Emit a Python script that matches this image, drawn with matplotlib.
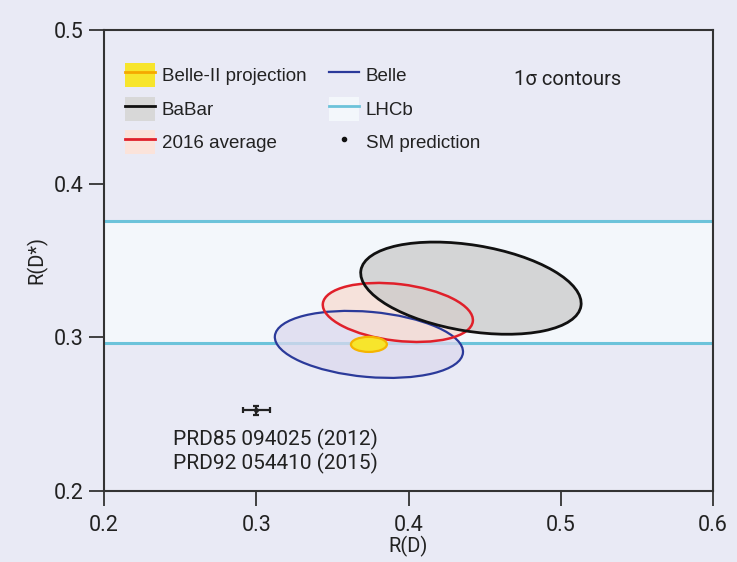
import matplotlib
matplotlib.use("Agg")
import matplotlib.pyplot as plt
import numpy as np
from matplotlib.patches import Ellipse, Patch
from matplotlib.lines import Line2D

# 1-sigma contours: R(D), R(D*) centres, widths and correlation
labels = ["Belle", "2016 average", "BaBar", "Belle-II projection"]
rd_center = [0.374, 0.393, 0.441, 0.374]
rd_sigma = [0.0618, 0.0493, 0.0724, 0.0118]
rds_center = [0.2954, 0.3162, 0.332, 0.2954]
rds_sigma = [0.0218, 0.0192, 0.030, 0.0049]
rho = [-0.22, -0.26, -0.33, 0.0]

# LHCb R(D*) band
lhcb_rds = 0.336
lhcb_err = 0.040

# SM prediction
sm_rd, sm_rd_err = 0.300, 0.009
sm_rds, sm_rds_err = 0.2525, 0.003

BG = "#e9eaf5"
BAND = "#f3f7fb"
fills = ["#dcd9ee", "#f7ddd3", "#c8c8c8", "#f7e52c"]
fill_alpha = [0.75, 0.8, 0.72, 1.0]
edges = ["#2b3a9a", "#e0202a", "#111111", "#f5b400"]
lws = [1.6, 1.8, 2.0, 1.6]

NARROW = ["Liberation Sans Narrow", "Roboto", "DejaVu Sans"]


def cov_ellipse(cx, cy, sx, sy, r, **kw):
    cov = np.array([[sx * sx, r * sx * sy], [r * sx * sy, sy * sy]])
    vals, vecs = np.linalg.eigh(cov)
    order = vals.argsort()[::-1]
    vals, vecs = vals[order], vecs[:, order]
    angle = np.degrees(np.arctan2(vecs[1, 0], vecs[0, 0]))
    w, h = 2 * np.sqrt(vals)
    return Ellipse((cx, cy), w, h, angle=angle, **kw)


fig = plt.figure(figsize=(7.37, 5.62), dpi=100, facecolor=BG)
ax = fig.add_axes([104 / 737, 1 - 491 / 562, (713 - 104) / 737, (491 - 30) / 562])
ax.set_facecolor(BG)
ax.set_xlim(0.2, 0.6)
ax.set_ylim(0.2, 0.5)

# LHCb band
ax.axhspan(lhcb_rds - lhcb_err, lhcb_rds + lhcb_err, color=BAND, lw=0, zorder=1)
for yv in (lhcb_rds - lhcb_err, lhcb_rds + lhcb_err):
    ax.axhline(yv, color="#6cc3da", lw=2.2, zorder=2)

# fills first, then outlines on top
for i in range(len(labels)):
    ax.add_patch(cov_ellipse(rd_center[i], rds_center[i], rd_sigma[i], rds_sigma[i], rho[i],
                             facecolor=fills[i], alpha=fill_alpha[i], lw=0, zorder=3 + i * 0.1))
for i in range(3):
    ax.add_patch(cov_ellipse(rd_center[i], rds_center[i], rd_sigma[i], rds_sigma[i], rho[i],
                             facecolor="none", edgecolor=edges[i], lw=lws[i], zorder=5))
ax.add_patch(cov_ellipse(rd_center[3], rds_center[3], rd_sigma[3], rds_sigma[3], rho[3],
                         facecolor=fills[3], edgecolor=edges[3], lw=lws[3], zorder=6))

# SM prediction
ax.errorbar([sm_rd], [sm_rds], xerr=[sm_rd_err], yerr=[sm_rds_err], fmt="o", ms=2.5,
            color="#222222", lw=1.6, capsize=2, capthick=1.6, zorder=7)
ax.text(sm_rd + 0.0125, 0.2258, "PRD85 094025 (2012)\nPRD92 054410 (2015)", ha="center", va="center",
        fontsize=15, family=NARROW, color="#222222", linespacing=1.2)

ax.text(0.469, 0.4675, "1σ contours", fontsize=14.5, family=NARROW, color="#222222", va="center")

# legend
hl = dict(lw=2)
handles = [
    (Patch(facecolor="#f7e52c", edgecolor="none"), Line2D([], [], color="#f5a800", **hl)),
    (Patch(facecolor="#d8d8d8", edgecolor="none"), Line2D([], [], color="#111111", **hl)),
    (Patch(facecolor="#fbe3da", edgecolor="none"), Line2D([], [], color="#e0202a", **hl)),
    (Patch(facecolor=BG, edgecolor="none"), Line2D([], [], color="#2b3a9a", lw=1.6)),
    (Patch(facecolor=BAND, edgecolor="none"), Line2D([], [], color="#6cc3da", **hl)),
    Line2D([], [], color="#111111", marker="o", ms=3, lw=0),
]
leg_labels = ["Belle-II projection", "BaBar", "2016 average", "Belle", "LHCb", "SM prediction"]
leg = ax.legend(handles, leg_labels, ncol=2, loc="upper left", bbox_to_anchor=(0.035, 0.928),
                frameon=False, handlelength=1.6, handleheight=1.6,
                handletextpad=0.35, labelspacing=0.5, columnspacing=1.2, borderaxespad=0,
                borderpad=0, prop={"family": "Liberation Sans", "size": 13.5})
for t in leg.get_texts():
    t.set_color("#222222")

ax.set_xticks([0.2, 0.3, 0.4, 0.5, 0.6])
ax.set_yticks([0.2, 0.3, 0.4, 0.5])
ax.set_xticklabels(["0.2", "0.3", "0.4", "0.5", "0.6"])
ax.set_yticklabels(["0.2", "0.3", "0.4", "0.5"])
ax.tick_params(direction="out", length=11, width=1.3, color="#333333", labelsize=15.5,
               labelcolor="#222222")
ax.tick_params(axis="x", pad=6)
ax.tick_params(axis="y", pad=4)
for lab in ax.get_xticklabels() + ax.get_yticklabels():
    lab.set_family(NARROW)
for s in ax.spines.values():
    s.set_linewidth(1.5)
    s.set_color("#333333")
    s.set_zorder(10)

ax.set_xlabel("R(D)", fontsize=14.5, family=NARROW, color="#222222", labelpad=0)
ax.set_ylabel("R(D*)", fontsize=14.5, family=NARROW, color="#222222", labelpad=4)

fig.savefig("out.png", dpi=100, facecolor=BG)
